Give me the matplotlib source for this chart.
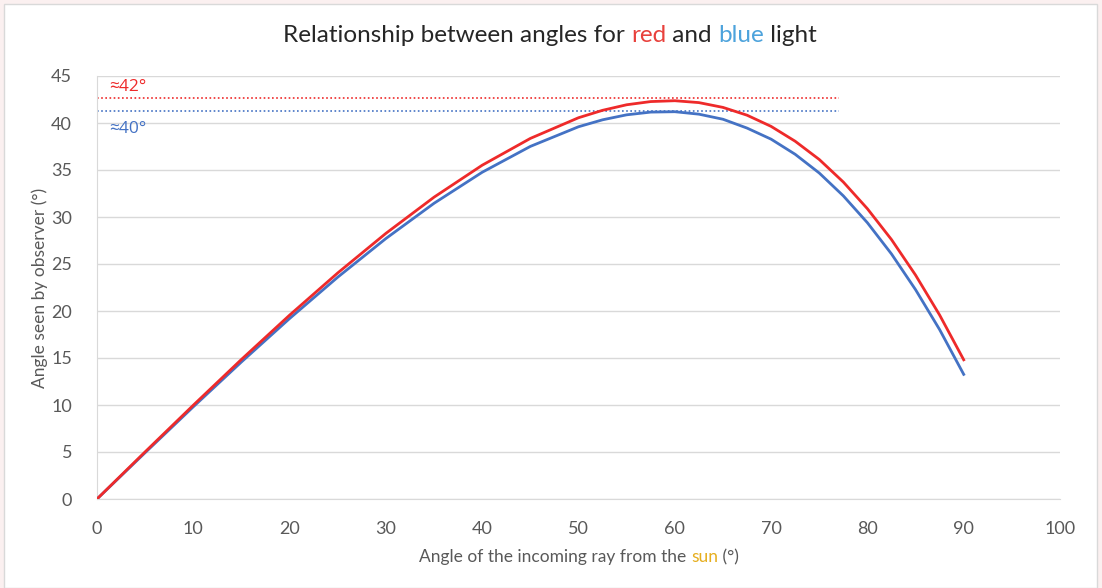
import matplotlib
matplotlib.use("Agg")
import matplotlib.pyplot as plt
from matplotlib.patches import Rectangle

plt.rcParams["font.family"] = ["Lato", "DejaVu Sans"]

# incoming angle (deg) and angle seen by observer (deg)
incoming = [0, 5, 10, 15, 20, 25, 30, 35, 40, 45, 50, 52.5, 55, 57.5, 60,
            62.5, 65, 67.5, 70, 72.5, 75, 77.5, 80, 82.5, 85, 87.5, 90]
red_seen = [0, 5.02, 9.98, 14.85, 19.56, 24.05, 28.26, 32.11, 35.51, 38.36, 40.56,
            41.35, 41.94, 42.28, 42.37, 42.17, 41.66, 40.83, 39.64, 38.06, 36.12,
            33.72, 30.88, 27.6, 23.82, 19.57, 14.81]
blue_seen = [0, 4.93, 9.81, 14.58, 19.2, 23.6, 27.71, 31.46, 34.76, 37.51, 39.6,
             40.34, 40.87, 41.16, 41.2, 40.94, 40.4, 39.46, 38.28, 36.67, 34.68,
             32.25, 29.39, 26.07, 22.27, 18.02, 13.26]

red_max = 42.7
blue_max = 41.25
ref_end = 77
x_ticks = list(range(0, 101, 10))
y_ticks = list(range(0, 46, 5))

RED = "#EE2A2A"
BLUE = "#4472C4"
TXT = "#595959"


def colored_text(fig, x, y, parts, size, ha="center"):
    renderer = fig.canvas.get_renderer()
    texts = [fig.text(0, y, s, color=c, fontsize=size, va="center") for s, c in parts]
    widths = [t.get_window_extent(renderer).width / fig.bbox.width for t in texts]
    start = x - sum(widths) / 2 if ha == "center" else x
    for t, w in zip(texts, widths):
        t.set_x(start)
        start += w


fig = plt.figure(figsize=(11.02, 5.88), dpi=100)
fig.patch.set_facecolor("#FBF0F0")
fig.add_artist(Rectangle((4 / 1102, 0), 1093 / 1102, 584 / 588, transform=fig.transFigure,
                         facecolor="white", edgecolor="#D9D9D9", linewidth=1, zorder=0))

ax = fig.add_axes([97 / 1102, 89 / 588, 963 / 1102, 423 / 588])
ax.set_facecolor("white")
ax.plot(incoming, blue_seen, color=BLUE, linewidth=2, zorder=3, solid_joinstyle="round")
ax.plot(incoming, red_seen, color=RED, linewidth=2, zorder=3, solid_joinstyle="round")
ax.plot([0, ref_end], [red_max, red_max], color=RED, linestyle=(0, (1, 1.5)), linewidth=1.2)
ax.plot([0, ref_end], [blue_max, blue_max], color=BLUE, linestyle=(0, (1, 1.5)), linewidth=1.2)
ax.text(1.3, 43.85, "≈42°", color=RED, fontsize=12.5, va="center",
        family=["Open Sans", "DejaVu Sans"])
ax.text(1.3, 39.4, "≈40°", color=BLUE, fontsize=12.5, va="center",
        family=["Open Sans", "DejaVu Sans"])

ax.set_xlim(0, 100)
ax.set_ylim(0, 45)
ax.set_xticks(x_ticks)
ax.set_yticks(y_ticks)
ax.tick_params(axis="x", length=0, labelsize=13, labelcolor=TXT, pad=16)
ax.tick_params(axis="y", length=0, labelsize=13, labelcolor=TXT, pad=18)
ax.grid(axis="y", color="#D9D9D9", linewidth=1)
for side in ["top", "right"]:
    ax.spines[side].set_visible(False)
ax.spines["left"].set_color("#D9D9D9")
ax.spines["bottom"].set_color("#D9D9D9")
ax.set_ylabel("Angle seen by observer (°)", fontsize=12.5, color=TXT, labelpad=2)

colored_text(fig, 550 / 1102, 1 - 35 / 588,
             [("Relationship between angles for ", "#262626"), ("red", "#E8413C"),
              (" and ", "#262626"), ("blue", "#4DA3DC"), (" light", "#262626")], 17.5)
colored_text(fig, 579 / 1102, 1 - 557 / 588,
             [("Angle of the incoming ray from the ", TXT), ("sun", "#E6AE1E"), (" (°)", TXT)], 12.5)

fig.savefig("out.png", dpi=100)
